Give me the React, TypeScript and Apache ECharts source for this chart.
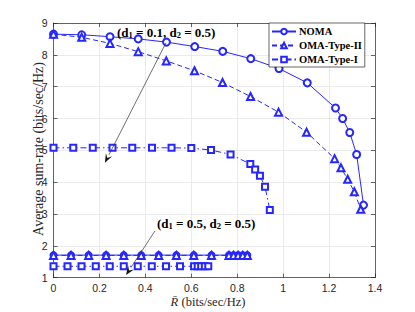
import React, { useEffect, useRef } from "react";
import * as echarts from "echarts";

// ---- Data ----
const nomaTopX = [0, 0.123, 0.246, 0.369, 0.492, 0.615, 0.737, 0.859, 0.982, 1.105, 1.228, 1.259, 1.29, 1.32, 1.35];
const nomaTopY = [8.65, 8.63, 8.57, 8.5, 8.4, 8.26, 8.11, 7.88, 7.57, 7.12, 6.33, 6.0, 5.56, 4.87, 3.28];

const oma2TopX = [0, 0.123, 0.246, 0.369, 0.491, 0.614, 0.736, 0.858, 0.98, 1.102, 1.224, 1.252, 1.281, 1.31, 1.338];
const oma2TopY = [8.65, 8.55, 8.36, 8.1, 7.81, 7.5, 7.13, 6.69, 6.2, 5.57, 4.74, 4.45, 4.09, 3.7, 3.15];

const oma1TopX = [0, 0.086, 0.171, 0.257, 0.343, 0.429, 0.514, 0.6, 0.686, 0.771, 0.857, 0.878, 0.899, 0.921, 0.942];
const oma1TopY = [5.08, 5.08, 5.08, 5.08, 5.08, 5.08, 5.08, 5.07, 5.01, 4.87, 4.57, 4.4, 4.2, 3.86, 3.13];

const bottomTriX = [0, 0.0764, 0.153, 0.229, 0.306, 0.382, 0.458, 0.535, 0.611, 0.688, 0.764, 0.784, 0.804, 0.824, 0.844];
const nomaBottomY = [1.71, 1.71, 1.71, 1.71, 1.71, 1.71, 1.71, 1.71, 1.71, 1.71, 1.71, 1.71, 1.71, 1.71, 1.71];
const oma2BottomY = [1.7, 1.7, 1.7, 1.7, 1.7, 1.7, 1.7, 1.7, 1.7, 1.7, 1.7, 1.7, 1.7, 1.7, 1.7];

const oma1BottomX = [0, 0.061, 0.122, 0.184, 0.245, 0.306, 0.367, 0.428, 0.49, 0.551, 0.612, 0.628, 0.643, 0.659, 0.674];
const oma1BottomY = [1.36, 1.36, 1.36, 1.36, 1.36, 1.36, 1.36, 1.36, 1.36, 1.36, 1.36, 1.36, 1.36, 1.36, 1.36];

const xTicks = [0, 0.2, 0.4, 0.6, 0.8, 1, 1.2, 1.4];
const yTicks = [1, 2, 3, 4, 5, 6, 7, 8, 9];
const legendNames = ["NOMA", "OMA-Type-II", "OMA-Type-I"];

// annotation arrows: [from, to] in data coordinates
const arrow1 = [[0.49, 8.38], [0.224, 4.61]];
const arrow2 = [[0.442, 2.47], [0.316, 1.085]];

const zip = (xs: number[], ys: number[]) => xs.map((x, i) => [x, ys[i]]);

const BLUE = "#2626ff";
const AXIS = "#262626";
const SERIF = "'Liberation Serif', 'DejaVu Serif', serif";
const SANS = "'Liberation Sans', Arial, sans-serif";

export default function App() {
  const ref = useRef<HTMLDivElement>(null);
  useEffect(() => {
    if (!ref.current) return;
    document.body.style.margin = "0";
    const chart = echarts.init(ref.current, undefined, { renderer: "svg" });

    const mk = (name: string, data: number[][], symbol: string, size: number, dash: any) => ({
      name,
      type: "line",
      data,
      symbol,
      symbolSize: size,
      showSymbol: true,
      silent: true,
      color: BLUE,
      lineStyle: { color: BLUE, width: 1, type: dash },
      itemStyle: { color: BLUE, borderWidth: 0.8 },
      emphasis: { disabled: true },
      z: 3,
    });

    const xAx = (pos: string, labels: boolean) => ({
      type: "value",
      position: pos,
      min: xTicks[0],
      max: xTicks[xTicks.length - 1],
      interval: 0.2,
      axisLine: { show: true, onZero: false, lineStyle: { color: AXIS, width: 0.7 } },
      axisTick: { show: true, inside: true, length: 4, lineStyle: { color: AXIS, width: 0.7 } },
      axisLabel: { show: labels, color: AXIS, fontFamily: SANS, fontSize: 10.5, margin: 5 },
      splitLine: { show: labels, lineStyle: { color: "#e6e6e6", width: 0.8 } },
    });
    const yAx = (pos: string, labels: boolean) => ({
      type: "value",
      position: pos,
      min: yTicks[0],
      max: yTicks[yTicks.length - 1],
      interval: 1,
      axisLine: { show: true, onZero: false, lineStyle: { color: AXIS, width: 0.7 } },
      axisTick: { show: true, inside: true, length: 4, lineStyle: { color: AXIS, width: 0.7 } },
      axisLabel: { show: labels, color: AXIS, fontFamily: SANS, fontSize: 10.5, margin: 6 },
      splitLine: { show: labels, lineStyle: { color: "#e6e6e6", width: 0.8 } },
    });

    const dashDot = [6, 3, 1.5, 3];
    const subRich = {
      b: { fontFamily: SERIF, fontWeight: "bold", fontSize: 13, fill: "#000", lineHeight: 15 },
      s: { fontFamily: SERIF, fontWeight: "bold", fontSize: 8.5, fill: "#000", verticalAlign: "bottom", lineHeight: 15 },
    };

    chart.setOption({
      animation: false,
      backgroundColor: "#ffffff",
      grid: { left: 53.5, right: 40, top: 23, bottom: 34.3, containLabel: false },
      xAxis: [xAx("bottom", true), xAx("top", false)],
      yAxis: [yAx("left", true), yAx("right", false)],
      legend: {
        data: legendNames,
        orient: "vertical",
        left: 269,
        top: 23,
        padding: [3, 3, 2, 2],
        itemWidth: 24,
        itemHeight: 7,
        itemGap: 3,
        backgroundColor: "#ffffff",
        borderColor: AXIS,
        borderWidth: 0.7,
        borderRadius: 0,
        selectedMode: false,
        textStyle: { fontFamily: SERIF, fontWeight: "bold", fontSize: 10.5, color: "#000000", padding: [0, 0, 0, -2] },
      },
      series: [
        mk(legendNames[0], zip(nomaTopX, nomaTopY), "emptyCircle", 7, "solid"),
        mk(legendNames[1], zip(oma2TopX, oma2TopY), "emptyTriangle", 7, [5, 3]),
        mk(legendNames[2], zip(oma1TopX, oma1TopY), "emptyRect", 6, dashDot),
        mk(legendNames[0], zip(bottomTriX, nomaBottomY), "emptyCircle", 6, "solid"),
        mk(legendNames[1], zip(bottomTriX, oma2BottomY), "emptyTriangle", 7, [5, 3]),
        mk(legendNames[2], zip(oma1BottomX, oma1BottomY), "emptyRect", 6, dashDot),
      ],
    });

    // arrows positioned through the chart's own coordinate system
    const arrowGraphic = (pts: number[][]) => {
      const a = chart.convertToPixel({ gridIndex: 0 }, pts[0]) as number[];
      const b = chart.convertToPixel({ gridIndex: 0 }, pts[1]) as number[];
      const dx = b[0] - a[0];
      const dy = b[1] - a[1];
      const len = Math.sqrt(dx * dx + dy * dy);
      const ux = dx / len;
      const uy = dy / len;
      const headL = 9;
      const headW = 3.5;
      const bx = b[0] - ux * headL;
      const by = b[1] - uy * headL;
      return [
        {
          type: "line",
          silent: true,
          shape: { x1: a[0], y1: a[1], x2: bx, y2: by },
          style: { stroke: "#333333", lineWidth: 0.7 },
          z: 9,
        },
        {
          type: "polygon",
          silent: true,
          shape: {
            points: [
              [b[0], b[1]],
              [bx - uy * headW, by + ux * headW],
              [b[0] - ux * headL * 0.6, b[1] - uy * headL * 0.6],
              [bx + uy * headW, by - ux * headW],
            ],
          },
          style: { fill: "#111111" },
          z: 9,
        },
      ];
    };

    chart.setOption({
      graphic: [
        ...arrowGraphic(arrow1),
        ...arrowGraphic(arrow2),
        {
          type: "text",
          x: 117,
          y: 32,
          silent: true,
          style: { text: "{b|(d}{s|1}{b| = 0.1, d}{s|2}{b| = 0.5)}", verticalAlign: "middle", rich: subRich },
          z: 10,
        },
        {
          type: "text",
          x: 157,
          y: 223,
          silent: true,
          style: { text: "{b|(d}{s|1}{b| = 0.5, d}{s|2}{b| = 0.5)}", verticalAlign: "middle", rich: subRich },
          z: 10,
        },
        {
          type: "text",
          x: 38,
          y: 149,
          rotation: Math.PI / 2,
          silent: true,
          style: {
            text: "Average sum-rate (bits/sec/Hz)",
            align: "center",
            verticalAlign: "middle",
            fontFamily: SERIF,
            fontSize: 14,
            fill: "#262626",
          },
        },
        {
          type: "text",
          x: 208,
          y: 302,
          silent: true,
          style: {
            text: "{i|R\u0304} {n|(bits/sec/Hz)}",
            align: "center",
            verticalAlign: "middle",
            rich: {
              i: { fontFamily: SERIF, fontStyle: "italic", fontSize: 12.5, fill: "#262626" },
              n: { fontFamily: SERIF, fontSize: 12.5, fill: "#262626" },
            },
          },
        },
      ],
    });
    return () => chart.dispose();
  }, []);
  return <div ref={ref} style={{ position: "fixed", left: 0, top: 0, width: 415, height: 312 }} />;
}
